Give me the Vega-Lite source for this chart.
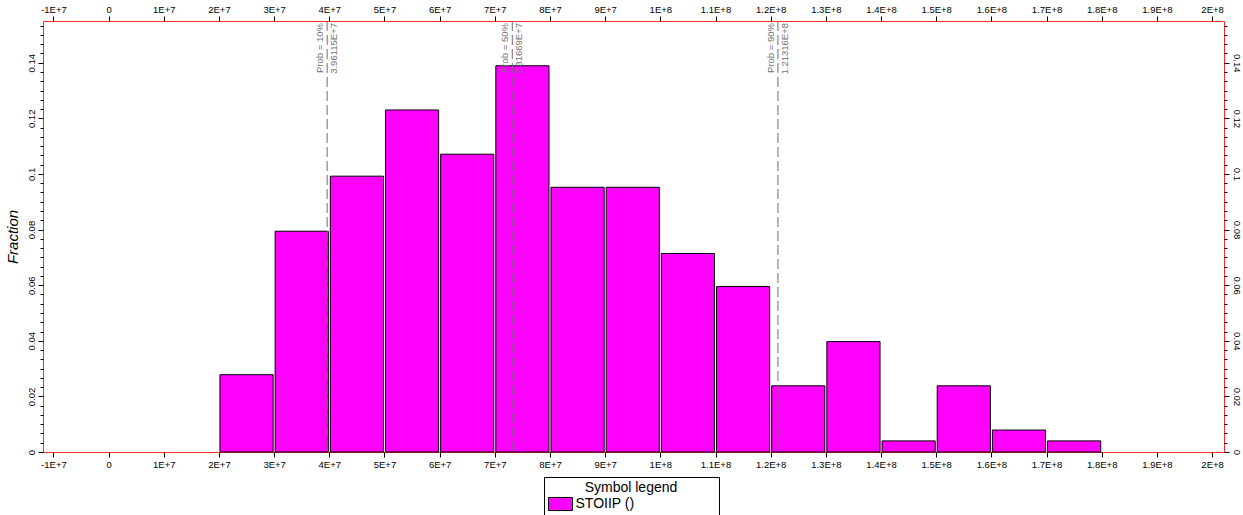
{
  "$schema": "https://vega.github.io/schema/vega-lite/v6.json",
  "width": 1181,
  "height": 431,
  "autosize": "none",
  "padding": {"left": 43, "top": 21, "right": 19, "bottom": 63},
  "background": "white",
  "config": {
    "view": {"stroke": "#FF2A2A", "strokeWidth": 1},
    "font": "Liberation Sans",
    "axis": {"domain": false, "grid": false, "tickColor": "black", "labelColor": "black", "labelFont": "Liberation Sans", "labelFontSize": 9.5, "titleFont": "Liberation Sans"}
  },
  "datasets": {
    "bins": [
      {"start": 20000000, "end": 30000000, "fraction": 0.0278, "series": "STOIIP ()"},
      {"start": 30000000, "end": 40000000, "fraction": 0.0794, "series": "STOIIP ()"},
      {"start": 40000000, "end": 50000000, "fraction": 0.0992, "series": "STOIIP ()"},
      {"start": 50000000, "end": 60000000, "fraction": 0.1230, "series": "STOIIP ()"},
      {"start": 60000000, "end": 70000000, "fraction": 0.1071, "series": "STOIIP ()"},
      {"start": 70000000, "end": 80000000, "fraction": 0.1389, "series": "STOIIP ()"},
      {"start": 80000000, "end": 90000000, "fraction": 0.0952, "series": "STOIIP ()"},
      {"start": 90000000, "end": 100000000, "fraction": 0.0952, "series": "STOIIP ()"},
      {"start": 100000000, "end": 110000000, "fraction": 0.0714, "series": "STOIIP ()"},
      {"start": 110000000, "end": 120000000, "fraction": 0.0595, "series": "STOIIP ()"},
      {"start": 120000000, "end": 130000000, "fraction": 0.0238, "series": "STOIIP ()"},
      {"start": 130000000, "end": 140000000, "fraction": 0.0397, "series": "STOIIP ()"},
      {"start": 140000000, "end": 150000000, "fraction": 0.0040, "series": "STOIIP ()"},
      {"start": 150000000, "end": 160000000, "fraction": 0.0238, "series": "STOIIP ()"},
      {"start": 160000000, "end": 170000000, "fraction": 0.0079, "series": "STOIIP ()"},
      {"start": 170000000, "end": 180000000, "fraction": 0.0040, "series": "STOIIP ()"}
    ],
    "probs": [
      {"value": 39611500, "prob": "Prob = 10%", "label": "3.96115E+7"},
      {"value": 73166900, "prob": "Prob = 50%", "label": "7.31669E+7"},
      {"value": 121316000, "prob": "Prob = 90%", "label": "1.21316E+8"}
    ]
  },
  "resolve": {"axis": {"x": "independent", "y": "independent"}},
  "layer": [
    {
      "data": {"name": "bins"},
      "mark": {"type": "bar", "stroke": "black", "strokeWidth": 1, "xOffset": 1, "x2Offset": -1, "opacity": 1},
      "encoding": {
        "x": {
          "field": "start", "type": "quantitative",
          "scale": {"domain": [-11890000, 202160000], "nice": false, "zero": false},
          "axis": {
            "orient": "bottom", "title": null, "tickSize": 5, "labelPadding": 2,
            "values": [-10000000, 0, 10000000, 20000000, 30000000, 40000000, 50000000, 60000000, 70000000, 80000000, 90000000, 100000000, 110000000, 120000000, 130000000, 140000000, 150000000, 160000000, 170000000, 180000000, 190000000, 200000000],
            "labelExpr": "datum.value == 0 ? '0' : (datum.value < 0 ? '-' : '') + upper(format(abs(datum.value), '.2~e'))",
            "labelOverlap": false, "labelFlush": false
          }
        },
        "x2": {"field": "end"},
        "y": {
          "field": "fraction", "type": "quantitative",
          "scale": {"domain": [0, 0.155], "nice": false, "zero": true},
          "axis": {
            "orient": "left", "title": "Fraction", "titleFontSize": 15, "titleFontStyle": "italic", "titleFontWeight": "normal", "titleColor": "black", "titlePadding": 6,
            "labelAngle": 270, "labelPadding": 2, "labelOverlap": false, "labelFlush": false,
            "values": [0, 0.003333, 0.006667, 0.01, 0.013333, 0.016667, 0.02, 0.023333, 0.026667, 0.03, 0.033333, 0.036667, 0.04, 0.043333, 0.046667, 0.05, 0.053333, 0.056667, 0.06, 0.063333, 0.066667, 0.07, 0.073333, 0.076667, 0.08, 0.083333, 0.086667, 0.09, 0.093333, 0.096667, 0.1, 0.103333, 0.106667, 0.11, 0.113333, 0.116667, 0.12, 0.123333, 0.126667, 0.13, 0.133333, 0.136667, 0.14, 0.143333, 0.146667, 0.15, 0.153333],
            "labelExpr": "abs(datum.value*50 - round(datum.value*50)) < 0.01 ? format(round(datum.value*50)/50, '.2~f') : ''",
            "tickSize": {"condition": {"test": "abs(datum.value*50 - round(datum.value*50)) < 0.01", "value": 5}, "value": 3}
          }
        },
        "y2": {"datum": 0},
        "color": {
          "field": "series", "type": "nominal",
          "scale": {"range": ["#FF00FF"]},
          "legend": {
            "title": "Symbol legend", "orient": "none", "legendX": 501, "legendY": 456,
            "strokeColor": "black", "padding": 4, "titleFontSize": 14, "titleFontWeight": "normal", "titleColor": "black",
            "titleAnchor": "middle", "titleAlign": "center", "titlePadding": 1,
            "labelFontSize": 14, "labelColor": "black", "labelOffset": 7, "symbolOffset": 4.5, "labelLimit": 300,
            "labelExpr": "datum.label + '\u2800\u2800\u2800\u2800\u2800\u2800\u2800\u2800'",
            "symbolType": "M-1.6,-0.87H1.6V0.87H-1.6Z", "symbolSize": 225, "symbolStrokeColor": "black", "symbolStrokeWidth": 1, "symbolOpacity": 1
          }
        }
      }
    },
    {
      "data": {"name": "probs"},
      "mark": {"type": "rule", "color": "#6E6E6E", "strokeWidth": 1, "strokeDash": [10, 4]},
      "encoding": {
        "x": {
          "field": "value", "type": "quantitative",
          "scale": {"domain": [-11890000, 202160000], "nice": false, "zero": false},
          "axis": {
            "orient": "top", "title": null, "tickSize": 5, "labelPadding": 2,
            "values": [-10000000, 0, 10000000, 20000000, 30000000, 40000000, 50000000, 60000000, 70000000, 80000000, 90000000, 100000000, 110000000, 120000000, 130000000, 140000000, 150000000, 160000000, 170000000, 180000000, 190000000, 200000000],
            "labelExpr": "datum.value == 0 ? '0' : (datum.value < 0 ? '-' : '') + upper(format(abs(datum.value), '.2~e'))",
            "labelOverlap": false, "labelFlush": false
          }
        }
      }
    },
    {
      "data": {"name": "probs"},
      "mark": {"type": "text", "angle": 270, "align": "right", "baseline": "bottom", "dx": -2, "dy": -2, "fontSize": 9.5, "color": "#707070", "font": "Liberation Sans"},
      "encoding": {
        "x": {"field": "value", "type": "quantitative", "scale": {"domain": [-11890000, 202160000], "nice": false, "zero": false}, "axis": null},
        "y": {
          "datum": 0.155, "type": "quantitative",
          "scale": {"domain": [0, 0.155], "nice": false, "zero": true},
          "axis": {
            "orient": "right", "title": null,
            "labelAngle": 90, "labelPadding": 2, "labelOverlap": false, "labelFlush": false,
            "values": [0, 0.003333, 0.006667, 0.01, 0.013333, 0.016667, 0.02, 0.023333, 0.026667, 0.03, 0.033333, 0.036667, 0.04, 0.043333, 0.046667, 0.05, 0.053333, 0.056667, 0.06, 0.063333, 0.066667, 0.07, 0.073333, 0.076667, 0.08, 0.083333, 0.086667, 0.09, 0.093333, 0.096667, 0.1, 0.103333, 0.106667, 0.11, 0.113333, 0.116667, 0.12, 0.123333, 0.126667, 0.13, 0.133333, 0.136667, 0.14, 0.143333, 0.146667, 0.15, 0.153333],
            "labelExpr": "abs(datum.value*50 - round(datum.value*50)) < 0.01 ? format(round(datum.value*50)/50, '.2~f') : ''",
            "tickSize": {"condition": {"test": "abs(datum.value*50 - round(datum.value*50)) < 0.01", "value": 5}, "value": 3}
          }
        },
        "text": {"field": "prob"}
      }
    },
    {
      "data": {"name": "probs"},
      "mark": {"type": "text", "angle": 270, "align": "right", "baseline": "top", "dx": -2, "dy": 2, "fontSize": 9.5, "color": "#707070", "font": "Liberation Sans"},
      "encoding": {
        "x": {"field": "value", "type": "quantitative", "scale": {"domain": [-11890000, 202160000], "nice": false, "zero": false}, "axis": null},
        "y": {"datum": 0.155, "type": "quantitative", "scale": {"domain": [0, 0.155], "nice": false, "zero": true}, "axis": null},
        "text": {"field": "label"}
      }
    }
  ]
}
